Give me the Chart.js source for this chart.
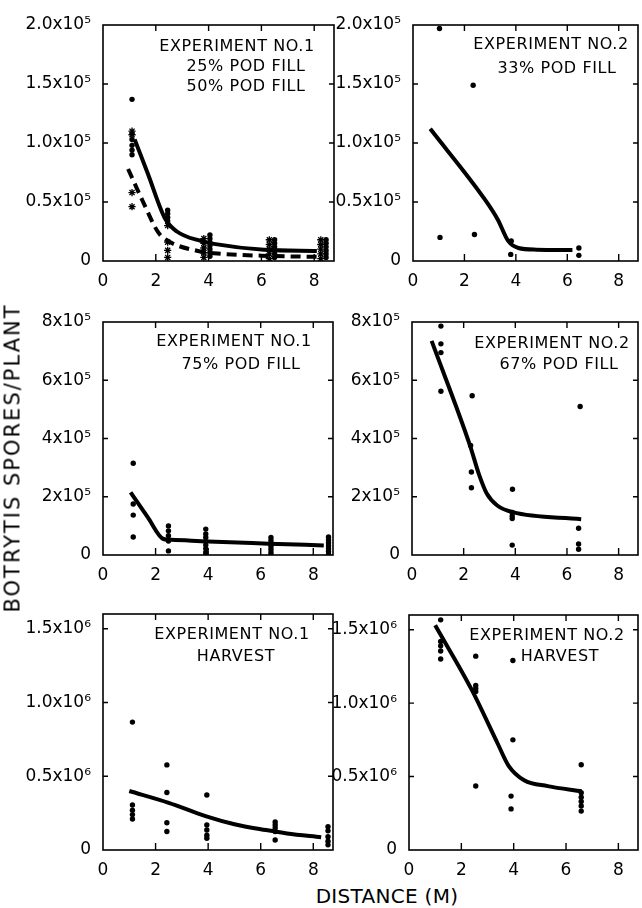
<!DOCTYPE html>
<html><head><meta charset="utf-8">
<script src="https://cdn.jsdelivr.net/npm/chart.js@4.4.1/dist/chart.umd.min.js"></script>
<style>
html,body{margin:0;padding:0;background:#fff;width:642px;height:908px;overflow:hidden;position:relative;font-family:"DejaVu Sans",sans-serif;color:#000}
canvas{position:absolute}
.t{position:absolute;width:300px;text-align:center;font-size:16px;line-height:16px;white-space:nowrap;letter-spacing:0.6px}
#ytitle{position:absolute;left:13px;top:458px;transform:translate(-50%,-50%) rotate(-90deg);font-size:21px;line-height:21px;letter-spacing:2px;white-space:nowrap}
#xtitle{position:absolute;left:237px;top:886px;width:300px;text-align:center;font-size:20px;line-height:20px;letter-spacing:0.3px;white-space:nowrap}
</style></head><body>
<canvas id="c1"></canvas><canvas id="c2"></canvas>
<canvas id="c3"></canvas><canvas id="c4"></canvas>
<canvas id="c5"></canvas><canvas id="c6"></canvas>
<div class="t" style="left:87px;top:38px">EXPERIMENT NO.1</div>
<div class="t" style="left:96px;top:58px">25% POD FILL</div>
<div class="t" style="left:96px;top:78px">50% POD FILL</div>
<div class="t" style="left:401px;top:36px">EXPERIMENT NO.2</div>
<div class="t" style="left:407px;top:60px">33% POD FILL</div>
<div class="t" style="left:84px;top:333px">EXPERIMENT NO.1</div>
<div class="t" style="left:91px;top:356px">75% POD FILL</div>
<div class="t" style="left:402px;top:335px">EXPERIMENT NO.2</div>
<div class="t" style="left:409px;top:356px">67% POD FILL</div>
<div class="t" style="left:82px;top:626px">EXPERIMENT NO.1</div>
<div class="t" style="left:86px;top:648px">HARVEST</div>
<div class="t" style="left:397px;top:627px">EXPERIMENT NO.2</div>
<div class="t" style="left:410px;top:648px">HARVEST</div>
<div id="ytitle">BOTRYTIS SPORES/PLANT</div>
<div id="xtitle">DISTANCE (M)</div>
<script>
// ---------- tick values and labels ----------
const xTickVals = [0, 2, 4, 6, 8];
const xTickLabels = ["0", "2", "4", "6", "8"];
const yTickValsRow1 = [0, 50000, 100000, 150000, 200000];
const yTicksRow1 = ["0", "0.5x10⁵", "1.0x10⁵", "1.5x10⁵", "2.0x10⁵"];
const yTickValsRow2 = [0, 200000, 400000, 600000, 800000];
const yTicksRow2 = ["0", "2x10⁵", "4x10⁵", "6x10⁵", "8x10⁵"];
const yTickValsRow3 = [0, 500000, 1000000, 1500000];
const yTicksRow3 = ["0", "0.5x10⁶", "1.0x10⁶", "1.5x10⁶"];

// ---------- Experiment 1, 25% / 50% pod fill ----------
const p1DotX = [1.1,1.1,1.1,1.1,1.1, 2.45,2.45,2.45,2.45, 4.05,4.05,4.05,4.05,4.05,4.05,4.05, 6.5,6.5,6.5,6.5,6.5,6.5, 8.45,8.45,8.45,8.45,8.45,8.45];
const p1DotY = [137000,103000,98000,94000,90000, 43000,40000,37000,34000, 22000,19000,16000,13000,10000,7000,4000, 18000,15000,12000,9000,6000,3000, 18000,15000,12000,9000,6000,3000];
const p1StarX = [1.1,1.1,1.1,1.1, 2.45,2.45,2.45,2.45, 3.82,3.82,3.82,3.82,3.82, 6.3,6.3,6.3,6.3,6.3, 8.25,8.25,8.25,8.25,8.25];
const p1StarY = [110000,107000,58000,46000, 30000,16000,9000,3000, 19000,15000,11000,7000,3000, 18000,14000,10000,6000,2000, 18000,14000,10000,6000,2000];
const p1SolidX = [1.2, 1.7, 2.35, 2.8, 3.7, 4.2, 6.1, 8.1];
const p1SolidY = [103000, 74000, 36000, 25000, 17000, 14500, 9500, 8500];
const p1DashX = [0.95, 1.5, 2.1, 2.5, 3.6, 4.2, 6.0, 8.1];
const p1DashY = [78000, 51000, 24000, 16500, 8500, 6600, 4500, 3500];

// ---------- Experiment 2, 33% pod fill ----------
const p2DotX = [1.03, 2.34, 1.05, 2.39, 3.82, 3.8, 6.45, 6.45];
const p2DotY = [197000, 149000, 20000, 22500, 17000, 5600, 11000, 4800];
const p2LineX = [0.67, 2.8, 3.3, 3.7, 4.1, 4.8, 6.2];
const p2LineY = [112000, 52000, 35000, 17000, 11000, 9600, 9300];

// ---------- Experiment 1, 75% pod fill ----------
const p3DotX = [1.15,1.15,1.15,1.15, 2.49,2.49,2.49,2.49,2.49, 3.91,3.91,3.91,3.91,3.91,3.91,3.91,3.91, 6.39,6.39,6.39,6.39,6.39,6.39,6.39, 8.58,8.58,8.58,8.58,8.58,8.58,8.58];
const p3DotY = [315000,175000,137000,62000, 100000,83000,66000,48000,14000, 89000,72000,60000,46000,34000,22000,10000,2000, 60000,50000,40000,30000,20000,10000,2000, 62000,52000,42000,32000,22000,12000,2000];
const p3LineX = [1.05, 1.7, 2.3, 2.6, 4.0, 6.3, 8.4];
const p3LineY = [215000, 130000, 55000, 52000, 46000, 39000, 33000];

// ---------- Experiment 2, 67% pod fill ----------
const p4DotX = [1.12,1.12,1.12,1.12, 2.33,2.27,2.3,2.3, 3.89,3.88,3.88,3.88,3.88, 6.51,6.45,6.45,6.45];
const p4DotY = [786000,725000,695000,562000, 547000,376000,285000,231000, 226000,146000,134000,125000,34000, 510000,92000,38000,20000];
const p4LineX = [0.76, 2.25, 2.6, 2.9, 3.3, 3.9, 6.55];
const p4LineY = [735000, 375000, 275000, 210000, 170000, 147000, 123000];

// ---------- Experiment 1, harvest ----------
const p5DotX = [1.12,1.12,1.12,1.12,1.12, 2.43,2.43,2.43,2.43, 3.95,3.95,3.95,3.95,3.95, 6.55,6.55,6.55,6.55,6.55, 8.56,8.56,8.56,8.56,8.56];
const p5DotY = [867000,305000,270000,240000,210000, 577000,390000,185000,125000, 373000,170000,136000,100000,80000, 190000,170000,150000,125000,68000, 158000,130000,90000,60000,35000];
const p5LineX = [1.0, 2.5, 3.9, 5.0, 6.2, 7.0, 8.3];
const p5LineY = [400000, 320000, 230000, 175000, 135000, 112000, 86000];

// ---------- Experiment 2, harvest ----------
const p6DotX = [1.21,1.21,1.21,1.21,1.21, 2.55,2.55,2.55,2.55,2.55, 3.97,3.97,3.9,3.9, 6.58,6.58,6.58,6.58,6.58,6.58];
const p6DotY = [1567000,1420000,1390000,1355000,1300000, 1320000,1120000,1100000,1080000,436000, 1290000,750000,367000,280000, 580000,390000,360000,330000,300000,265000];
const p6LineX = [1.0, 2.4, 3.4, 3.8, 4.4, 5.3, 6.6];
const p6LineY = [1530000, 1090000, 720000, 575000, 475000, 435000, 400000];

// ---------- helpers ----------
const pts = (xs, ys) => xs.map((x, i) => ({ x: x, y: ys[i] }));
const dotSet = (xs, ys) => ({ data: pts(xs, ys), showLine: false, pointStyle: 'circle', pointRadius: 2.7, backgroundColor: '#000', borderColor: '#000', borderWidth: 0 });
const starSet = (xs, ys) => ({ data: pts(xs, ys), showLine: false, pointStyle: 'star', pointRadius: 3.6, backgroundColor: '#000', borderColor: '#000', borderWidth: 1.3 });
const lineSet = (xs, ys, dash) => ({ data: pts(xs, ys), showLine: true, pointRadius: 0, borderColor: '#000', borderWidth: 4, borderDash: dash || [], cubicInterpolationMode: 'monotone', fill: false });

const framePlugin = {
  id: 'frame',
  afterDraw(chart) {
    const a = chart.chartArea, ctx = chart.ctx;
    const xs = chart.scales.x, ys = chart.scales.y;
    ctx.save();
    ctx.strokeStyle = '#000';
    ctx.lineWidth = 1.6;
    ctx.strokeRect(a.left, a.top, a.right - a.left, a.bottom - a.top);
    ctx.lineWidth = 1.4;
    ctx.beginPath();
    xs.ticks.forEach(t => {
      const p = xs.getPixelForValue(t.value);
      if (p <= a.left + 1) return;
      ctx.moveTo(p, a.bottom); ctx.lineTo(p, a.bottom - 7);
      ctx.moveTo(p, a.top); ctx.lineTo(p, a.top + 6);
    });
    ys.ticks.forEach(t => {
      const p = ys.getPixelForValue(t.value);
      if (p >= a.bottom - 1 || p <= a.top + 1) return;
      ctx.moveTo(a.left, p); ctx.lineTo(a.left + 5, p);
      ctx.moveTo(a.right, p); ctx.lineTo(a.right - 5, p);
    });
    ctx.stroke();
    ctx.restore();
  }
};

function makePanel(id, p) {
  const cv = document.getElementById(id);
  cv.width = p.w; cv.height = p.h;
  cv.style.left = p.left + 'px'; cv.style.top = p.top + 'px';
  cv.style.width = p.w + 'px'; cv.style.height = p.h + 'px';
  const font = { family: '"DejaVu Sans", sans-serif', size: 17 };
  new Chart(cv, {
    type: 'scatter',
    data: { datasets: p.datasets },
    plugins: [framePlugin],
    options: {
      responsive: false, animation: false, devicePixelRatio: 1,
      layout: { padding: { top: p.padTop, right: p.padRight, left: 0, bottom: 0 } },
      plugins: { legend: { display: false }, tooltip: { enabled: false } },
      scales: {
        x: {
          type: 'linear', position: 'bottom', min: 0, max: 8.75, bounds: 'data',
          grid: { display: false }, border: { display: false },
          afterFit: s => { s.height = 30; },
          afterBuildTicks: s => { s.ticks = xTickVals.map(v => ({ value: v })); },
          ticks: { autoSkip: false, maxRotation: 0, color: '#000', font: font, padding: 2,
                   callback: (v, i) => xTickLabels[i] }
        },
        y: {
          type: 'linear', position: 'left', min: 0, max: p.yMax, bounds: 'data',
          grid: { display: false }, border: { display: false },
          afterFit: s => { s.width = p.yW; },
          afterBuildTicks: s => { s.ticks = p.yVals.map(v => ({ value: v })); },
          ticks: { autoSkip: false, color: '#000', font: font, padding: 4,
                   callback: (v, i) => p.yLabels[i] }
        }
      }
    }
  });
}

makePanel('c1', { left: 0, top: 0, w: 340, h: 291, padTop: 25, padRight: 6, yW: 103, yMax: 200000, yVals: yTickValsRow1, yLabels: yTicksRow1,
  datasets: [lineSet(p1SolidX, p1SolidY), lineSet(p1DashX, p1DashY, [10, 6]), dotSet(p1DotX, p1DotY), starSet(p1StarX, p1StarY)] });
makePanel('c2', { left: 330, top: 0, w: 312, h: 291, padTop: 25, padRight: 1, yW: 83, yMax: 200000, yVals: yTickValsRow1, yLabels: yTicksRow1,
  datasets: [lineSet(p2LineX, p2LineY), dotSet(p2DotX, p2DotY)] });
makePanel('c3', { left: 0, top: 292, w: 340, h: 293, padTop: 30, padRight: 7, yW: 103, yMax: 800000, yVals: yTickValsRow2, yLabels: yTicksRow2,
  datasets: [lineSet(p3LineX, p3LineY), dotSet(p3DotX, p3DotY)] });
makePanel('c4', { left: 330, top: 292, w: 312, h: 293, padTop: 30, padRight: 1, yW: 82, yMax: 800000, yVals: yTickValsRow2, yLabels: yTicksRow2,
  datasets: [lineSet(p4LineX, p4LineY), dotSet(p4DotX, p4DotY)] });
makePanel('c5', { left: 0, top: 586, w: 340, h: 294, padTop: 28, padRight: 7, yW: 103, yMax: 1600000, yVals: yTickValsRow3, yLabels: yTicksRow3,
  datasets: [lineSet(p5LineX, p5LineY), dotSet(p5DotX, p5DotY)] });
makePanel('c6', { left: 330, top: 586, w: 312, h: 294, padTop: 29, padRight: 2, yW: 79, yMax: 1600000, yVals: yTickValsRow3, yLabels: yTicksRow3,
  datasets: [lineSet(p6LineX, p6LineY), dotSet(p6DotX, p6DotY)] });
</script>
</body></html>
